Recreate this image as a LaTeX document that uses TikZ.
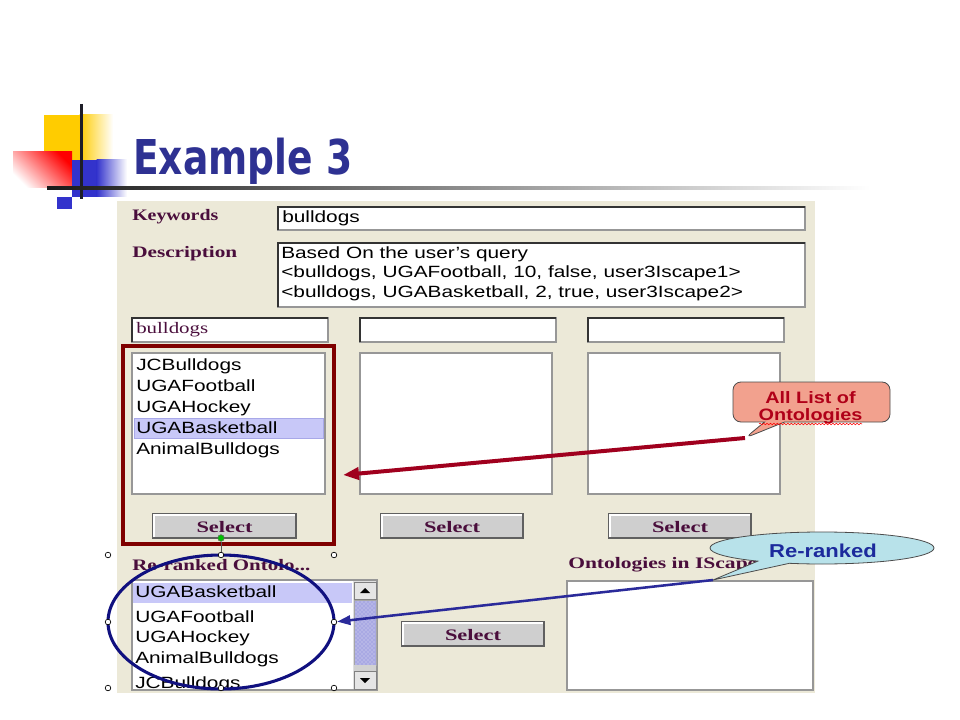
\documentclass[tikz,border=0pt]{standalone}
\usepackage{fontspec}
\setmainfont{Liberation Serif}
\setsansfont{Liberation Sans}
\newfontfamily\titlefont{DejaVu Sans}
\usetikzlibrary{shapes.callouts,shapes.geometric,arrows.meta,decorations.pathmorphing,patterns}

\definecolor{panel}{HTML}{ECE9D8}
\definecolor{lblc}{HTML}{4A0E3C}
\definecolor{titlec}{HTML}{2E3192}
\definecolor{hilite}{HTML}{C8C8F8}
\definecolor{hiliteb}{HTML}{A8A8E8}
\definecolor{boxline}{HTML}{979797}
\definecolor{btnfill}{HTML}{CFCFCF}
\definecolor{darkred}{HTML}{7F0000}
\definecolor{arrred}{HTML}{A0001E}
\definecolor{navyc}{HTML}{10107F}
\definecolor{arrblue}{HTML}{2A2A9A}
\definecolor{salmon}{HTML}{F2A18E}
\definecolor{calltext}{HTML}{B00018}
\definecolor{cyanfill}{HTML}{B8E2EA}
\definecolor{retext}{HTML}{1C2A9C}
\definecolor{yel}{HTML}{FFCC00}
\definecolor{blu}{HTML}{3333CC}
\definecolor{dline}{HTML}{1E1E28}
\definecolor{thumb}{HTML}{A9A9E3}

\newcommand\fitw[2]{\resizebox{#1pt}{\height}{#2}}
\newcommand\itm[1]{\scalebox{1.28}[1]{\sffamily\fontsize{12.2}{14}\selectfont #1}}
\newcommand\lblf[2]{\fitw{#1}{\fontsize{12}{14}\selectfont\bfseries #2}}
\newcommand\callA[1]{\scalebox{1.2}[1]{\sffamily\bfseries\fontsize{12.4}{13}\selectfont #1}}
\newcommand\callB[1]{\scalebox{1.18}[1]{\sffamily\bfseries\fontsize{14}{16}\selectfont #1}}

\begin{document}
\begin{tikzpicture}[x=0.75pt,y=-0.75pt,
  lbl/.style={anchor=base west, inner sep=0pt, text=lblc},
  item/.style={anchor=base west, inner sep=0pt, text=black},
  tbox/.style={draw=boxline, fill=white, line width=1pt},
  sunk/.style={draw=black!80, line width=1.2pt},
  lbox/.style={draw=boxline, fill=white, line width=1.3pt},
  btn/.style={draw=gray!75!black, fill=btnfill, line width=0.9pt},
  btntext/.style={anchor=base, inner sep=0pt, text=lblc},
  hndl/.style={circle, draw=black, fill=white, inner sep=0pt, minimum size=4.2pt, line width=0.5pt}]
\useasboundingbox (0,0) rectangle (960,720);
\fill[white] (0,0) rectangle (960,720);

% ---- decoration ----
\fill[yel] (44,115) rectangle (80,160);
\shade[left color=yel, right color=white] (79.5,115) rectangle (113,160);
\shade[top color=red, bottom color=white, shading angle=-45] (13,152) rectangle (72,188);
\fill[blu] (72,160) rectangle (97,197);
\shade[left color=blu, right color=white] (96.5,160) rectangle (127,197);
\fill[blu] (57,197) rectangle (72,209);
\draw[dline, line width=2.25pt] (81,104) -- (81,199);
\shade[left color=black!90, middle color=black!60, right color=white] (47,186.5) rectangle (870,189.5);

% ---- title ----
\node[anchor=base west, inner sep=0pt, text=titlec] (title) at (133,175)
  {\fitw{164.25}{\titlefont\bfseries\fontsize{36}{40}\selectfont Example 3}};

% ---- form panel ----
\fill[panel] (117,201) rectangle (815,693);

\node[lbl] (kwl) at (132,221) {\lblf{64.5}{Keywords}};
\node[lbl] (dsl) at (132,258) {\lblf{78.75}{Description}};

\draw[tbox] (278,207) rectangle (805,230);
\draw[sunk] (278,230) -- (278,207) -- (805,207);
\node[item] (kwt) at (282,223) {\itm{bulldogs}};

\draw[tbox] (278,243) rectangle (805,307);
\draw[sunk] (278,307) -- (278,243) -- (805,243);
\node[item] (d1) at (281,259) {\itm{Based On the user's query}};
\node[item] (d2) at (281,278) {\itm{<bulldogs, UGAFootball, 10, false, user3Iscape1>}};
\node[item] (d3) at (281,297) {\itm{<bulldogs, UGABasketball, 2, true, user3Iscape2>}};

% small text boxes
\foreach \a/\b in {132/328, 360/556, 588/784}{
  \draw[tbox] (\a,318) rectangle (\b,342);
  \draw[sunk] (\a,342) -- (\a,318) -- (\b,318);
}
\node[anchor=base west, inner sep=0pt, text=lblc] (bt) at (136,333)
  {\fitw{54}{\fontsize{12}{14}\selectfont bulldogs}};

% list boxes
\draw[lbox] (132,353) rectangle (325,494);
\draw[lbox] (360,353) rectangle (552,494);
\draw[lbox] (588,353) rectangle (780,494);
\draw[fill=hilite, draw=hiliteb, line width=0.6pt] (134,418) rectangle (323,438);
\node[item] (l1) at (136,370) {\itm{JCBulldogs}};
\node[item] (l2) at (136,391) {\itm{UGAFootball}};
\node[item] (l3) at (136,412) {\itm{UGAHockey}};
\node[item] (l4) at (136,433) {\itm{UGABasketball}};
\node[item] (l5) at (136,454) {\itm{AnimalBulldogs}};

% select buttons
\foreach \a/\b/\y in {153/296/514, 381/523/514, 609/751/514, 402/544/622}{
  \draw[btn] (\a,\y) rectangle (\b,\y+24);
  \draw[white, line width=0.8pt] (\a+1,\y+23) -- (\a+1,\y+1) -- (\b-1,\y+1);
  \node[btntext] at ({(\a+\b)/2},\y+18) {\lblf{42}{Select}};
}

% lower labels
\node[lbl] (rrl) at (132,570) {\lblf{133.5}{Re-ranked Ontolo...}};
\node[lbl] (oil) at (568,568) {\lblf{141.75}{Ontologies in IScape}};

% lower list with scrollbar
\draw[lbox] (132,580) rectangle (377,690);
\begin{scope}
  \clip (133,581) rectangle (352,689);
  \fill[hilite] (133,583) rectangle (352,603);
  \node[item] (r1) at (135,597) {\itm{UGABasketball}};
  \node[item] (r2) at (135,622) {\itm{UGAFootball}};
  \node[item] (r3) at (135,642) {\itm{UGAHockey}};
  \node[item] (r4) at (135,663) {\itm{AnimalBulldogs}};
  \node[item] (r5) at (135,688) {\itm{JCBulldogs}};
\end{scope}
\fill[black!12] (353,581) rectangle (376,689);
\draw[fill=black!10, draw=gray, line width=0.6pt] (354,582) rectangle (376,599);
\fill[black] (360,593) -- (370,593) -- (365,588) -- cycle;
\draw[fill=thumb, draw=gray!70, line width=0.5pt] (354,600) rectangle (376,665);
\fill[pattern=crosshatch dots, pattern color=white!60!thumb] (355,601) rectangle (375,664);
\fill[black!18] (354,665) rectangle (376,671);
\draw[fill=black!10, draw=gray, line width=0.6pt] (354,671) rectangle (376,689);
\fill[black] (360,678) -- (370,678) -- (365,683) -- cycle;

% right box
\draw[lbox] (567,581) rectangle (813,690);

% ---- annotations ----
\node[draw=darkred, line width=3pt, minimum width=158.25pt, minimum height=148.5pt, inner sep=0pt] (redsel) at (228.5,445) {};

\node[ellipse, draw=navyc, line width=2.3pt, minimum width=169.5pt, minimum height=100.5pt, inner sep=0pt] (oval) at (221,622) {};

\node[circle, fill=green!75!black, draw=black!60, inner sep=0pt, minimum size=5pt] (rot) at (221,538) {};
\node[hndl] (hN) at (221,555) {};
\draw[gray!70!black, line width=0.6pt] (rot) -- (hN);
\node[hndl] (hNW) at (108,555) {};
\node[hndl] (hNE) at (334,555) {};
\node[hndl] (hW) at (108,622) {};
\node[hndl] (hE) at (334,622) {};
\node[hndl] (hSW) at (108,688) {};
\node[hndl] (hS) at (221,688) {};
\node[hndl] (hSE) at (334,688) {};

\coordinate (tipA) at (745,438);
\coordinate (redtip) at (343,475);
\draw[arrred, line width=3pt, -{Triangle[length=12pt,width=9pt]}] (tipA) -- (redtip);

\coordinate (tipB) at (713,580);
\draw[arrblue, line width=1.9pt, -{Triangle[length=10pt,width=7pt]}] (tipB) -- (hE);

\node[rectangle callout, rounded corners=6pt, draw=black!70, fill=salmon, line width=0.6pt,
  minimum width=117.75pt, minimum height=30pt, inner sep=0pt,
  callout absolute pointer={(tipA)}, callout pointer width=15pt] (callA) at (811.5,402) {};
\node[anchor=base, inner sep=0pt, text=calltext] (cA1) at (810.5,403) {\callA{All List of}};
\node[anchor=base, inner sep=0pt, text=calltext] (cA2) at (810.5,420) {\callA{Ontologies}};
\draw[red, line width=0.4pt, decorate, decoration={snake, amplitude=0.6pt, segment length=2.6pt}] (759,424) -- (862,424);

\node[ellipse callout, draw=black!70, fill=cyanfill, line width=0.6pt,
  minimum width=168pt, minimum height=24pt, inner sep=0pt,
  callout absolute pointer={(tipB)}, callout pointer arc=18] (callB) at (822,548) {};
\node[anchor=base, inner sep=0pt, text=retext] (cB) at (823,557) {\callB{Re-ranked}};
\end{tikzpicture}
\end{document}
